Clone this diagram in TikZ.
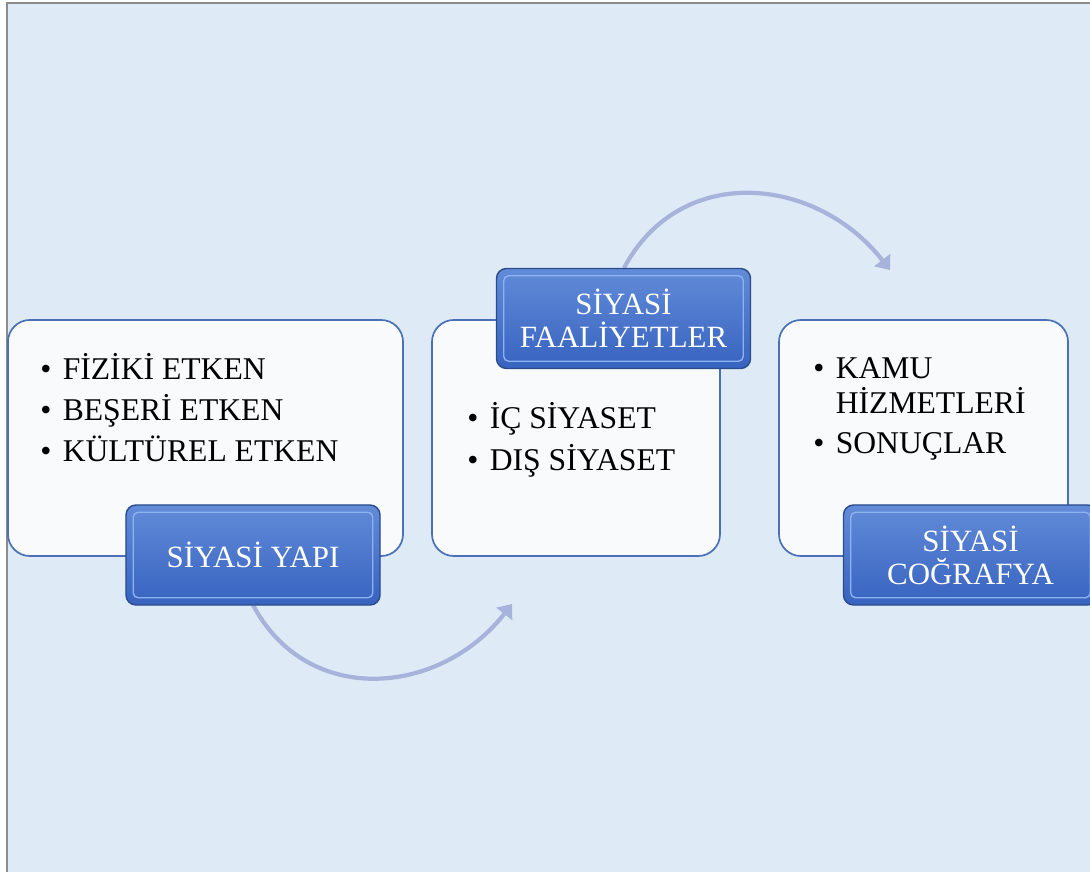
\documentclass[tikz,border=0pt]{standalone}
\usepackage{fontspec}
\setmainfont{Liberation Serif}
\usetikzlibrary{arrows.meta,positioning,shapes}

\definecolor{zemin}{HTML}{DEEAF6}
\definecolor{cerceve}{HTML}{8C8C8C}
\definecolor{kutuic}{HTML}{F8FAFC}
\definecolor{kutucizgi}{HTML}{4A70B5}
\definecolor{etiketust}{HTML}{628BD8}
\definecolor{etiketalt}{HTML}{3763C0}
\definecolor{etiketcizgi}{HTML}{2B4B8A}
\definecolor{pahrenk}{HTML}{8DB2F0}
\definecolor{okrenk}{HTML}{A7B3DA}

\newcommand{\maddeler}[1]{\begin{tabular}[t]{@{}p{16pt}@{}l@{}}#1\end{tabular}}

\begin{document}
\begin{tikzpicture}[x=0.025cm,y=-0.025cm,
    kutu/.style={draw=kutucizgi,fill=kutuic,line width=1.2pt,rounded corners=0.55cm,minimum height=5.9cm},
    etiket/.style={draw=etiketcizgi,line width=1pt,top color=etiketust,bottom color=etiketalt,
      rounded corners=0.25cm,minimum width=6.35cm,minimum height=2.5cm,text=white,align=center,
      font=\fontsize{22}{23.5}\selectfont},
    pah/.style={draw=pahrenk,line width=1pt,rounded corners=0.12cm},
    liste/.style={anchor=base west,inner sep=0pt,font=\fontsize{22.5}{23}\selectfont},
    ok/.style={-{Triangle[length=9pt,width=14pt]},line width=3pt,draw=okrenk}]
  \useasboundingbox (0,0) rectangle (1090,872);
  \draw[fill=zemin,draw=cerceve,line width=1.4pt] (7,3) rectangle (1110,890);

  % kutular
  \node[kutu,minimum width=9.875cm] (kutu1) at (205.5,438) {};
  \node[kutu,minimum width=7.2cm] (kutu2) at (576,438) {};
  \node[kutu,minimum width=7.225cm] (kutu3) at (923.5,438) {};

  \node[liste] (liste1) at (40,379) {\maddeler{%
      \textbullet & FİZİKİ ETKEN\\[4pt]
      \textbullet & BEŞERİ ETKEN\\[4pt]
      \textbullet & KÜLTÜREL ETKEN}};
  \node[liste] (liste2) at (467,428) {\maddeler{%
      \textbullet & İÇ SİYASET\\[4.5pt]
      \textbullet & DIŞ SİYASET}};
  \node[liste] (liste3) at (813,378) {\maddeler{%
      \textbullet & KAMU\\
      & HİZMETLERİ\\[5pt]
      \textbullet & SONUÇLAR}};

  % oklar
  \coordinate (uc1) at (512,604);
  \coordinate (uc2) at (890,270);
  \coordinate (bas1) at (253,605);
  \coordinate (bas2) at (624,268);
  \draw[ok] (bas1) to[out=-62,in=-128,looseness=1.15] (uc1);
  \draw[ok] (bas2) to[out=62,in=128,looseness=1.15] (uc2);

  % etiketler
  \node[etiket] (etiket1) at (253,555) {SİYASİ YAPI};
  \node[etiket] (etiket2) at (623.5,318.5) {SİYASİ\\FAALİYETLER};
  \node[etiket] (etiket3) at (970.5,555) {SİYASİ\\COĞRAFYA};
  \draw[pah] ([xshift=0.2cm,yshift=-0.2cm]etiket1.north west) rectangle ([xshift=-0.2cm,yshift=0.2cm]etiket1.south east);
  \draw[pah] ([xshift=0.2cm,yshift=-0.2cm]etiket2.north west) rectangle ([xshift=-0.2cm,yshift=0.2cm]etiket2.south east);
  \draw[pah] ([xshift=0.2cm,yshift=-0.2cm]etiket3.north west) rectangle ([xshift=-0.2cm,yshift=0.2cm]etiket3.south east);
\end{tikzpicture}
\end{document}
